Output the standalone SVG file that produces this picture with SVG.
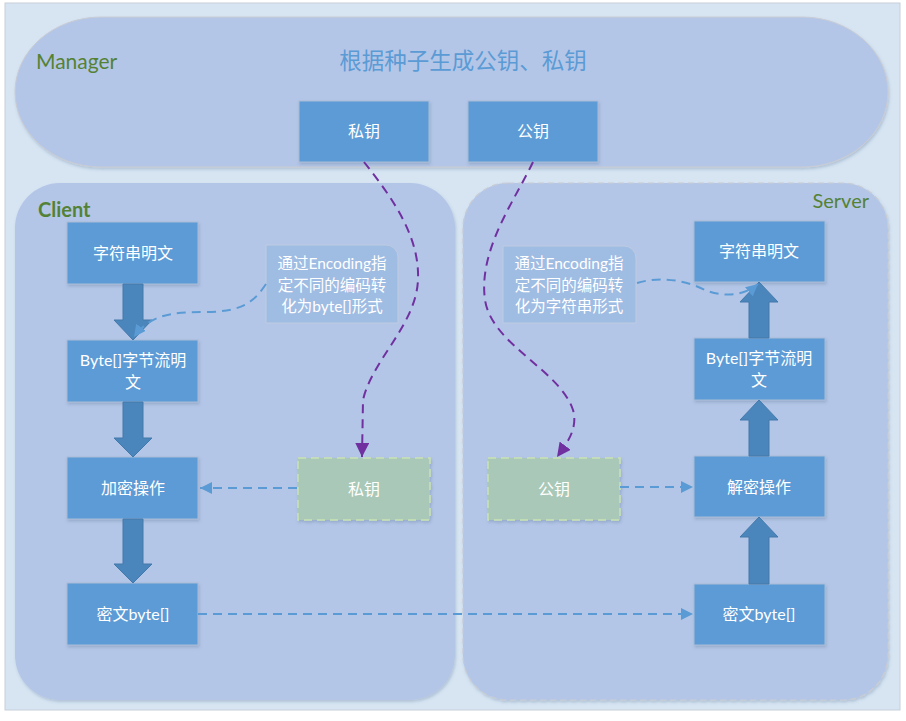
<svg xmlns="http://www.w3.org/2000/svg" width="906" height="721" viewBox="0 0 906 721">
<style>
.t{font-family:Lato,"Noto Sans CJK SC",sans-serif;}
.node{fill:#5b9bd5;stroke:#a9bcd6;stroke-width:1;}
.key{fill:#a9c8b7;stroke:#c9e2b3;stroke-width:1.5;stroke-dasharray:8 5;}
.nt{font-family:Lato,"Noto Sans CJK SC",sans-serif;font-size:16px;fill:#ffffff;text-anchor:middle;}
.ct{font-family:Lato,"Noto Sans CJK SC",sans-serif;font-size:15.5px;fill:#ffffff;text-anchor:middle;}
.blk{fill:#4a86bb;stroke:#4479ab;stroke-width:1;}
.blue{fill:none;stroke:#5b9bd5;stroke-width:2;stroke-dasharray:9 6;}
.purple{fill:none;stroke:#7030a0;stroke-width:2;stroke-dasharray:9 6;}
.panel{fill:#b4c6e7;}
</style>
<defs>
<filter id="sh" x="-10%" y="-10%" width="130%" height="130%">
<feDropShadow dx="1" dy="2" stdDeviation="1.5" flood-color="#3a5a80" flood-opacity="0.25"/>
</filter>
<marker id="ab" viewBox="0 0 10 10" refX="10" refY="5" markerWidth="12" markerHeight="12" markerUnits="userSpaceOnUse" orient="auto">
<path d="M0,0 L10,5 L0,10 z" fill="#5b9bd5"/>
</marker>
<marker id="ap" viewBox="0 0 10 10" refX="10" refY="5" markerWidth="14" markerHeight="14" markerUnits="userSpaceOnUse" orient="auto">
<path d="M0,0 L10,5 L0,10 z" fill="#7030a0"/>
</marker>
</defs>

<rect x="5" y="3" width="895" height="707" fill="#d7e5f3" stroke="#c7cfda" stroke-width="1"/>

<g id="manager">
<rect x="15" y="17" width="873" height="150" rx="86" ry="75" class="panel" stroke="#c9ccd4" stroke-width="1" filter="url(#sh)"/>
<text x="36" y="69" class="t" font-size="21" fill="#548235">Manager</text>
<text x="463" y="69" class="t" font-size="22.5" fill="#5b9bd5" text-anchor="middle">根据种子生成公钥、私钥</text>
</g>

<g id="client">
<rect x="15" y="183" width="440" height="517" rx="45" class="panel" filter="url(#sh)"/>
<text x="38" y="217" class="t" font-size="20" font-weight="bold" fill="#548235">Client</text>
</g>

<g id="server">
<rect x="463" y="183" width="425" height="517" rx="45" class="panel" stroke="#c8ccd4" stroke-width="1.2" stroke-dasharray="6 4" filter="url(#sh)"/>
<text x="869" y="208" class="t" font-size="20" fill="#548235" text-anchor="end">Server</text>
</g>

<g id="mgr-private">
<rect x="299" y="101" width="130" height="61" class="node" filter="url(#sh)"/>
<text x="364" y="137" class="nt">私钥</text>
</g>
<g id="mgr-public">
<rect x="468" y="101" width="130" height="61" class="node" filter="url(#sh)"/>
<text x="533" y="137" class="nt">公钥</text>
</g>

<g id="c-plain">
<rect x="67" y="222" width="131" height="62" class="node" filter="url(#sh)"/>
<text x="133" y="259" class="nt">字符串明文</text>
</g>
<g id="c-bytes">
<rect x="67" y="340" width="131" height="62" class="node" filter="url(#sh)"/>
<text x="133" y="366" class="nt">Byte[]字节流明</text>
<text x="133" y="388" class="nt">文</text>
</g>
<g id="c-encrypt">
<rect x="67" y="457" width="131" height="62" class="node" filter="url(#sh)"/>
<text x="133" y="494" class="nt">加密操作</text>
</g>
<g id="c-cipher">
<rect x="67" y="583" width="131" height="62" class="node" filter="url(#sh)"/>
<text x="133" y="620" class="nt">密文byte[]</text>
</g>
<g id="c-key">
<rect x="298" y="458" width="132" height="62" class="key" filter="url(#sh)"/>
<text x="364" y="495" class="nt">私钥</text>
</g>
<g id="c-note">
<path d="M266,245 H386 A12,12 0 0 1 398,257 V323 H266 Z" fill="#9fbce3" stroke="#bfcbe0" stroke-width="1"/>
<text x="332" y="269" class="ct">通过Encoding指</text>
<text x="332" y="291" class="ct">定不同的编码转</text>
<text x="332" y="312" class="ct">化为byte[]形式</text>
</g>

<g id="s-plain">
<rect x="694" y="221" width="131" height="61" class="node" filter="url(#sh)"/>
<text x="759" y="257" class="nt">字符串明文</text>
</g>
<g id="s-bytes">
<rect x="694" y="338" width="131" height="62" class="node" filter="url(#sh)"/>
<text x="759" y="364" class="nt">Byte[]字节流明</text>
<text x="759" y="386" class="nt">文</text>
</g>
<g id="s-decrypt">
<rect x="694" y="456" width="131" height="61" class="node" filter="url(#sh)"/>
<text x="759" y="493" class="nt">解密操作</text>
</g>
<g id="s-cipher">
<rect x="694" y="584" width="131" height="61" class="node" filter="url(#sh)"/>
<text x="759" y="620" class="nt">密文byte[]</text>
</g>
<g id="s-key">
<rect x="488" y="458" width="132" height="62" class="key" filter="url(#sh)"/>
<text x="554" y="495" class="nt">公钥</text>
</g>
<g id="s-note">
<path d="M503,246 H624 A12,12 0 0 1 636,258 V323 H503 Z" fill="#9fbce3" stroke="#bfcbe0" stroke-width="1"/>
<text x="569" y="269" class="ct">通过Encoding指</text>
<text x="569" y="291" class="ct">定不同的编码转</text>
<text x="569" y="312" class="ct">化为字符串形式</text>
</g>

<g id="connectors">
<polygon class="blk" points="123,284 143,284 143,320 152,320 133,340 114,320 123,320"/>
<polygon class="blk" points="123,402 143,402 143,438 152,438 133,457 114,438 123,438"/>
<polygon class="blk" points="123,519 143,519 143,564 152,564 133,583 114,564 123,564"/>
<polygon class="blk" points="749,338 769,338 769,302 778,302 759,282 740,302 749,302"/>
<polygon class="blk" points="749,456 769,456 769,420 778,420 759,400 740,420 749,420"/>
<polygon class="blk" points="749,584 769,584 769,537 778,537 759,517 740,537 749,537"/>

<path class="blue" d="M297,488 L200,488" marker-end="url(#ab)"/>
<path class="blue" d="M620,487 L693,487" marker-end="url(#ab)"/>
<path class="blue" d="M198,614 L693,614" marker-end="url(#ab)"/>
<path class="blue" d="M266,284 C255,300 245,312 205,312 C170,312 150,315 134,337" marker-end="url(#ab)"/>
<path class="blue" d="M637,283 C660,276 685,280 705,290 C725,298 745,295 758,284" marker-end="url(#ab)"/>

<path class="purple" d="M364,162 C390,195 420,235 418,280 S372,360 363,400 L362,457" marker-end="url(#ap)"/>
<path class="purple" d="M533,162 C515,200 478,250 485,300 C492,345 560,370 573,410 C578,428 568,442 557,457" marker-end="url(#ap)"/>
</g>
</svg>
